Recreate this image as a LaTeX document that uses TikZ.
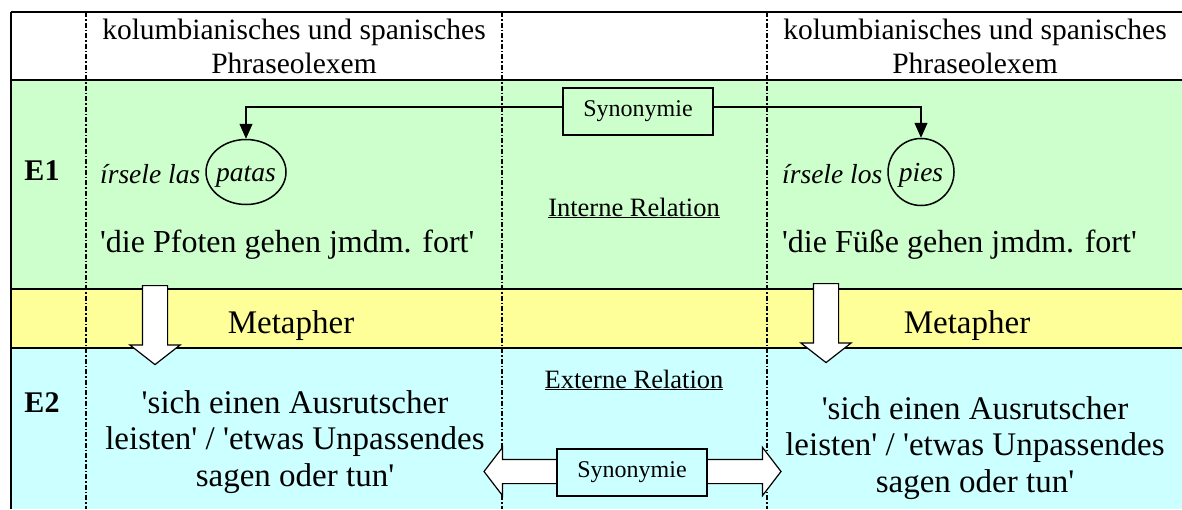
\documentclass[tikz,border=0pt]{standalone}
\usepackage{fontspec}
\setmainfont{Liberation Serif}
\usetikzlibrary{shapes,arrows.meta,positioning}
\definecolor{rowgreen}{HTML}{CCFFCC}
\definecolor{rowyellow}{HTML}{FFFF99}
\definecolor{rowcyan}{HTML}{CCFFFF}
\newcommand{\sq}{\textquotesingle}

\begin{document}
\begin{tikzpicture}[x=1pt, y=-1pt,
    every node/.append style={inner sep=0pt, font=\fontsize{32}{37}\selectfont},
    rule/.style={line width=1.3pt},
    colsep/.style={line width=1.2pt, dash pattern=on 5pt off 2pt on 1.5pt off 2pt},
    head/.style={align=center, font=\fontsize{29.5}{34}\selectfont},
    ebene/.style={font=\fontsize{30}{34}\selectfont\bfseries},
    phrase/.style={anchor=base west, font=\fontsize{27.5}{33}\selectfont\itshape},
    ring/.style={draw, ellipse, line width=1.5pt, inner xsep=-6pt, text height=25pt, text depth=6pt,
      font=\fontsize{27.5}{33}\selectfont\itshape},
    gloss/.style={anchor=base west},
    sense/.style={align=center, font=\fontsize{33}{36.5}\selectfont},
    relbox/.style={draw, line width=2pt, minimum width=150pt, minimum height=47pt,
      font=\fontsize{24}{28}\selectfont},
    rel/.style={anchor=base, font=\fontsize{26.5}{30}\selectfont},
    metaarrow/.style={draw, fill=white, line width=1.2pt, shape=single arrow, rotate=-90, anchor=tail,
      minimum height=79pt, inner xsep=0pt, inner ysep=12pt,
      single arrow head extend=12.5pt, single arrow tip angle=104},
    synarrow/.style={draw, fill=white, line width=1.2pt, shape=double arrow,
      minimum height=297pt, inner xsep=0pt, inner ysep=11.5pt,
      double arrow head extend=12pt, double arrow tip angle=105}]
  \useasboundingbox (0,0) rectangle (1182,509);

  % rows
  \fill[rowgreen] (11,80) rectangle (1182,289);
  \fill[rowyellow] (11,289) rectangle (1182,348);
  \fill[rowcyan] (11,348) rectangle (1182,509);
  \foreach \y in {12,80,289,348}
    \draw[rule] (11,\y) -- (1182,\y);
  \draw[rule] (11,12) -- (11,509);
  \foreach \x in {86,502,767}
    \draw[colsep] (\x,12) -- (\x,509);

  % header
  \node[head] (headL) at (294,46) {kolumbianisches und spanisches\\Phraseolexem};
  \node[head] (headR) at (975,46) {kolumbianisches und spanisches\\Phraseolexem};

  % E1
  \node[ebene, anchor=base] (E1) at (42,180) {E1};
  \node[phrase] (irseL) at (100,183) {írsele las};
  \node[ring, minimum width=80pt, minimum height=65pt] (patas) at (246,172) {patas};
  \node[phrase] (irseR) at (782,183) {írsele los};
  \node[ring, minimum width=66pt, minimum height=67pt] (pies) at (921,172) {pies};
  \node[gloss] (glossL) at (100,252) {\sq die Pfoten gehen jmdm. fort\sq};
  \node[gloss] (glossR) at (782,252) {\sq die Füße gehen jmdm. fort\sq};
  \node[relbox, fill=rowgreen] (synE1) at (638,111.5) {Synonymie};
  \node[rel] (intern) at (634,216) {\underline{Interne Relation}};
  \draw[line width=1.2pt, -{Triangle[width=13pt,length=15pt]}] ([yshift=4.5pt]synE1.west) -| (patas.north);
  \draw[line width=1.2pt, -{Triangle[width=13pt,length=15pt]}] ([yshift=4.5pt]synE1.east) -| (pies.north);

  % Metapher
  \node[anchor=base, font=\fontsize{33}{36}\selectfont] (metaL) at (291,333) {Metapher};
  \node[anchor=base, font=\fontsize{33}{36}\selectfont] (metaR) at (967,333) {Metapher};
  \node[metaarrow] (downL) at (155,285) {};
  \node[metaarrow] (downR) at (826,283) {};

  % E2
  \node[ebene, anchor=base] (E2) at (42,412) {E2};
  \node[sense] (senseL) at (295,442) {\sq sich einen Ausrutscher\\leisten\sq{} / \sq etwas Unpassendes\\sagen oder tun\sq};
  \node[sense] (senseR) at (975,448) {\sq sich einen Ausrutscher\\leisten\sq{} / \sq etwas Unpassendes\\sagen oder tun\sq};
  \node[rel] (extern) at (634,388) {\underline{Externe Relation}};
  \node[synarrow] (synlink) at (632.5,471.5) {};
  \node[relbox, fill=rowcyan] (synE2) at (632,472.5) {Synonymie};
\end{tikzpicture}
\end{document}
